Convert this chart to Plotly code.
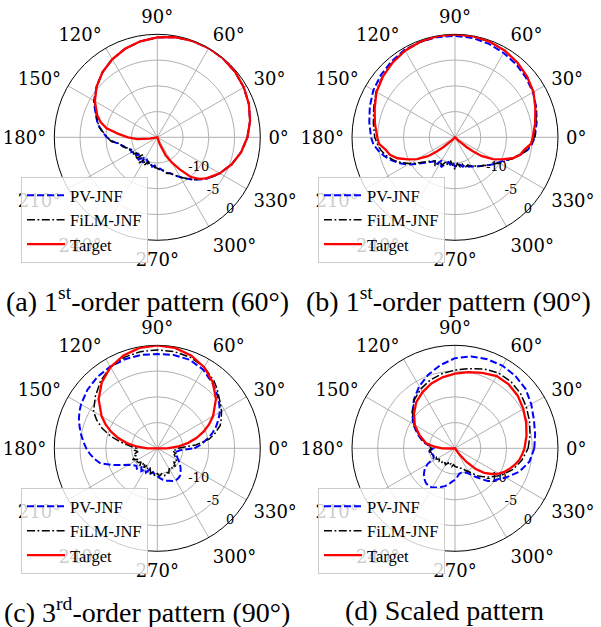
import plotly.graph_objects as go

# ---------------- data (dB) ----------------
SERIES_NAMES = ["PV-JNF", "FiLM-JNF", "Target"]
ANGLE_TICKS = [0, 30, 60, 90, 120, 150, 180, 210, 240, 270, 300, 330]
ANGLE_TICK_LABELS = ["0°", "30°", "60°", "90°", "120°", "150°", "180°", "210°", "240°", "270°", "300°", "330°"]
R_GRID = [-20, -15, -10, -5, 0]
R_LABEL_VALUES = [-10, -5, 0]
R_LABEL_TEXT = ["-10", "-5", "0"]
CAPTIONS = ["(a) 1<sup>st</sup>-order pattern (60°)", "(b) 1<sup>st</sup>-order pattern (90°)",
            "(c) 3<sup>rd</sup>-order pattern (90°)", "(d) Scaled pattern"]

# ---- (a) 1st-order pattern (60°)
A_TGT_TH = [0, 10, 20, 30, 40, 50, 60, 70, 80, 90, 100, 110, 120, 130, 140, 150, 160, 165, 170, 175, 180, 185, 190,
            195, 240, 285, 290, 295, 300, 305, 310, 315, 320, 330, 340, 350, 360]
A_TGT_R = [-2.5, -1.71, -1.08, -0.6, -0.27, -0.07, 0, -0.07, -0.27, -0.6, -1.08, -1.71, -2.5, -3.47, -4.63, -6.0,
           -7.6, -8.6, -10.0, -12.4, -14.3, -16.1, -18.5, -20, -20, -20, -18.5, -16.1, -14.3, -12.4, -10.0, -8.6,
           -7.6, -6.0, -4.63, -3.47, -2.5]
A_EST_TH = [0, 10, 20, 30, 40, 50, 60, 70, 80, 90, 100, 110, 120, 130, 140,
            150, 155, 160, 165, 170, 175, 180, 185, 190, 195, 200, 205, 210, 215, 220, 225, 230, 235, 240, 245,
            250, 255, 260, 265, 270, 275, 280, 285, 290, 295, 300, 305, 310, 315, 320, 325, 330, 340, 350, 360]
A_PV_R = [-2.5, -1.71, -1.08, -0.6, -0.27, -0.07, 0, -0.07, -0.27, -0.6, -1.08, -1.71, -2.5, -3.47, -4.63,
          -5.8, -6.6, -7.3, -7.9, -8.6, -9.4, -10.2, -11.2, -12.5, -13.3, -13.6, -14.4, -14.2, -15.0, -14.6, -15.3,
          -14.2, -15.4, -14.3, -15.2, -14.6, -14.9, -14.2, -14.5, -13.8, -13.9, -13.4, -12.9, -12.6, -11.8, -11.1,
          -10.2, -9.3, -8.4, -7.5, -6.8, -6.0, -4.63, -3.47, -2.5]
A_FILM_R = [-2.5, -1.71, -1.08, -0.6, -0.27, -0.07, 0, -0.07, -0.27, -0.6, -1.08, -1.71, -2.5, -3.47, -4.63,
            -5.9, -6.7, -7.4, -8.0, -8.5, -9.5, -10.3, -11.0, -12.7, -13.0, -13.9, -14.1, -14.6, -14.4, -15.2,
            -14.0, -15.6, -13.9, -15.1, -14.0, -15.0, -14.3, -14.7, -14.1, -14.0, -13.6, -13.5, -12.7, -12.5,
            -11.9, -11.0, -10.3, -9.2, -8.5, -7.6, -6.7, -6.0, -4.63, -3.47, -2.5]

# ---- (b) 1st-order pattern (90°)
B_TGT_TH = [0, 10, 20, 30, 40, 50, 60, 70, 80, 90, 100, 110, 120, 130, 140, 150, 160, 170, 180, 185, 190, 195, 200,
            205, 210, 215, 218, 220, 223, 225, 270, 315, 317, 320, 322, 325, 330, 335, 340, 345, 350, 355, 360]
B_TGT_R = [-4.9, -4.2, -3.4, -2.4, -1.7, -1.1, -0.6, -0.25, -0.07, 0, -0.07, -0.25, -0.6, -1.1, -1.7, -2.4, -3.4,
           -4.2, -4.9, -5.2, -6.3, -6.9, -8.1, -9.9, -11.5, -13.6, -15.5, -17.0, -19.0, -20, -20, -20, -19.0,
           -17.0, -15.5, -13.6, -11.5, -9.9, -8.1, -6.9, -6.3, -5.2, -4.9]
B_EST_TH = [0, 10, 20, 30, 40, 50, 60, 70, 80, 90, 100, 110, 120, 130, 140, 150, 160, 170, 180,
            185, 190, 195, 200, 205, 210, 215, 220, 225, 230, 235, 240, 245, 250, 255, 260, 265, 270, 275, 280,
            285, 290, 295, 300, 305, 310, 315, 320, 325, 330, 335, 340, 345, 350, 355, 360]
B_PV_R = [-4.5, -3.9, -3.2, -2.5, -2.0, -1.5, -1.1, -0.7, -0.4, -0.3, -0.25, -0.3, -0.4, -0.8, -1.2, -1.7, -2.4,
          -3.1, -3.7,
          -4.1, -4.9, -5.8, -6.9, -8.1, -9.4, -11.0, -12.3, -13.2, -13.9, -13.5, -14.8, -13.6, -14.5, -15.0, -14.6,
          -15.2, -14.2, -14.8, -14.6, -14.1, -14.3, -13.7, -13.5, -13.0, -12.7, -12.2, -11.6, -10.9, -10.2, -9.4,
          -8.1, -6.9, -5.7, -5.0, -4.5]
B_FILM_R = [-4.6, -4.0, -3.3, -2.4, -1.7, -1.1, -0.6, -0.3, -0.1, -0.05, -0.1, -0.3, -0.6, -1.1, -1.6, -2.3, -3.2,
            -3.9, -4.4,
            -4.9, -5.4, -6.2, -7.2, -8.4, -9.8, -11.4, -12.6, -13.5, -14.0, -13.2, -14.4, -14.0, -15.0, -14.4,
            -15.3, -14.5, -13.8, -14.9, -14.2, -14.6, -13.9, -14.1, -13.4, -13.2, -12.6, -12.3, -11.5, -11.0,
            -10.0, -9.2, -8.0, -6.8, -5.8, -5.1, -4.6]

# ---- (c) 3rd-order pattern (90°)
C_TGT_TH = [0, 5, 10, 15, 20, 25, 30, 40, 50, 60, 70, 80, 90, 100, 110, 120, 130, 140, 150, 155, 160, 165, 170,
            175, 180, 185, 270, 355, 360]
C_TGT_R = [-18.06, -15.9, -13.9, -12.07, -10.4, -8.88, -7.5, -5.13, -3.24, -1.8, -0.81, -0.2, 0, -0.2, -0.81, -1.8,
           -3.24, -5.13, -7.5, -8.88, -10.4, -12.07, -13.9, -15.9, -18.06, -20, -20, -20, -18.06]
C_EST_TH = [0, 5, 10, 15, 20, 25, 30, 35, 40, 45, 50, 60, 70, 80, 90, 100, 110, 120, 130, 140, 150, 155, 160, 165,
            170, 175, 180, 185, 190, 195, 200, 205, 210, 215, 220, 225, 230, 235, 240, 245, 250, 255, 260, 265,
            270, 275, 280, 285, 290, 295, 300, 305, 310, 315, 320, 325, 330, 335, 340, 345, 350, 355, 360]
C_PV_R = [-12.8, -11.5, -10.3, -9.0, -7.9, -6.9, -6.0, -5.3, -4.6, -4.0, -3.4, -2.3, -1.7, -1.6, -1.7, -1.6, -1.6,
          -1.7, -1.9, -2.3, -2.9, -3.3, -3.8, -4.4, -5.0, -5.6, -6.2, -6.9, -7.7, -8.6, -10.6, -12.3, -13.6, -14.3,
          -14.7, -14.4, -15.2, -14.6, -15.3, -14.8, -15.6, -14.9, -15.3, -14.8, -14.6, -14.2, -13.8, -13.5, -13.3,
          -13.0, -12.8, -12.9, -13.1, -13.6, -14.1, -14.7, -15.2, -15.7, -16.0, -16.2, -16.2, -15.6, -12.8]
C_FILM_R = [-16.0, -12.5, -9.8, -8.3, -7.0, -6.3, -5.6, -5.0, -4.4, -3.6, -2.9, -1.8, -1.2, -0.95, -0.9, -0.95,
            -1.2, -1.8, -2.9, -4.3, -5.7, -7.0, -8.6, -10.5, -12.6, -14.6, -16.0, -15.6, -16.2, -15.2, -15.6,
            -14.7, -15.8, -15.0, -15.9, -15.2, -16.3, -15.4, -16.2, -15.5, -15.9, -15.0, -15.3, -14.6, -15.1,
            -14.6, -15.0, -14.5, -15.0, -14.7, -15.4, -15.0, -15.6, -15.1, -15.8, -15.3, -15.9, -16.2, -16.5,
            -16.3, -17.0, -16.5, -16.0]

# ---- (d) Scaled pattern
D_TGT_TH = [0, 10, 20, 30, 40, 50, 60, 70, 80, 90, 100, 110, 120, 130, 140, 150, 160, 170, 175, 180, 185, 190, 245,
            300, 305, 310, 315, 320, 325, 330, 335, 340, 345, 350, 355, 360]
D_TGT_R = [-6.5, -5.9, -5.3, -4.7, -4.1, -3.8, -3.8, -4.4, -5.0, -5.5, -6.0, -6.6, -7.4, -8.3, -9.6, -11.0, -12.7,
           -14.3, -15.8, -17.5, -19.5, -20, -20, -20, -18.7, -16.6, -14.3, -12.6, -11.3, -10.2, -9.3, -8.6, -7.9,
           -7.3, -6.9, -6.5]
D_EST_TH = [0, 10, 20, 30, 40, 50, 60, 70, 80, 90, 100, 110, 120, 130, 140, 150, 155, 160, 165, 170, 175, 180, 185,
            190, 195, 200, 205, 210, 215, 220, 225, 230, 235, 240, 245, 250, 255, 260, 265, 270, 275, 280, 285, 290,
            295, 300, 305, 310, 315, 320, 325, 330, 340, 350, 360]
D_PV_R = [-4.6, -4.2, -3.7, -2.9, -2.1, -1.7, -1.5, -1.6, -1.9, -2.5, -3.6, -4.8, -6.1, -7.6, -9.2, -10.6, -11.6,
          -12.4, -13.2, -14.0, -15.3, -15.8, -15.2, -14.8, -15.5, -15.6, -15.4, -13.8, -12.8, -12.1, -11.6, -11.2,
          -11.1, -11.2, -11.6, -12.0, -12.4, -12.9, -13.5, -13.9, -14.5, -15.0, -15.1, -14.9, -14.8, -14.2, -13.3,
          -12.3, -11.0, -10.2, -9.6, -8.6, -6.7, -5.3, -4.6]
D_FILM_R = [-5.8, -5.2, -4.6, -4.0, -3.4, -3.1, -3.1, -3.6, -4.3, -4.8, -5.3, -5.9, -6.7, -7.7, -9.2, -10.8, -11.7,
            -12.6, -13.4, -14.2, -15.0, -15.4, -15.0, -15.3, -15.6, -15.5, -16.0, -15.8, -16.3, -16.0, -16.4,
            -16.1, -16.6, -16.3, -16.9, -16.5, -16.9, -16.4, -16.8, -16.5, -16.3, -16.4, -16.0, -15.9, -15.3,
            -14.8, -14.0, -13.0, -12.2, -11.3, -10.5, -9.6, -8.0, -6.8, -5.8]

PANELS = [
    (A_EST_TH, A_PV_R, A_EST_TH, A_FILM_R, A_TGT_TH, A_TGT_R),
    (B_EST_TH, B_PV_R, B_EST_TH, B_FILM_R, B_TGT_TH, B_TGT_R),
    (C_EST_TH, C_PV_R, C_EST_TH, C_FILM_R, C_TGT_TH, C_TGT_R),
    (D_EST_TH, D_PV_R, D_EST_TH, D_FILM_R, D_TGT_TH, D_TGT_R),
]

# ---------------- layout geometry / styles ----------------
W, H = 601, 627
CENTERS = [(157.3, 137.3), (455.0, 137.3), (157.3, 448.3), (455.0, 448.3)]
RADIUS = 103.0
LEGEND_POS = [(21, 177), (318, 177), (21, 488), (318, 488)]
CAPTION_POS = [(147.5, 299), (448, 299), (146.5, 610), (444, 610)]
R_LABEL_DIRECTIONS = [-36.5, -43.7, -45.0]   # direction (deg) at which each radial label sits

STYLES = [
    dict(color="#0000ff", width=2.0, dash="7px,3px"),
    dict(color="#000000", width=1.5, dash="8px,2.5px,1.8px,2.5px"),
    dict(color="#ff0000", width=2.3, dash="solid"),
]

TICK_FONT = dict(family="DejaVu Serif", size=18, color="black")
SERIF = "Liberation Serif"

fig = go.Figure()
layout = dict(width=W, height=H, margin=dict(l=0, r=0, t=0, b=0),
              paper_bgcolor="white", plot_bgcolor="white", annotations=[])

for i, (t1, r1, t2, r2, t3, r3) in enumerate(PANELS):
    pname = "polar" if i == 0 else f"polar{i + 1}"
    lname = "legend" if i == 0 else f"legend{i + 1}"
    # radial tick labels, placed through the polar scale
    fig.add_trace(go.Scatterpolar(
        r=R_LABEL_VALUES, theta=R_LABEL_DIRECTIONS, mode="text", text=R_LABEL_TEXT,
        textposition="middle center", cliponaxis=False, subplot=pname, showlegend=False,
        textfont=dict(family="DejaVu Serif", size=13, color="black"), hoverinfo="skip"))
    for name, th, rr, st in zip(SERIES_NAMES, [t1, t2, t3], [r1, r2, r3], STYLES):
        fig.add_trace(go.Scatterpolar(
            r=rr, theta=th, mode="lines", name=name, subplot=pname, legend=lname,
            line=dict(color=st["color"], width=st["width"], dash=st["dash"]),
            showlegend=True, hoverinfo="skip"))
    cx, cy = CENTERS[i]
    layout[pname] = dict(
        domain=dict(x=[(cx - RADIUS) / W, (cx + RADIUS) / W],
                    y=[1 - (cy + RADIUS) / H, 1 - (cy - RADIUS) / H]),
        bgcolor="white",
        angularaxis=dict(
            rotation=0, direction="counterclockwise",
            tickmode="array", tickvals=ANGLE_TICKS, ticktext=ANGLE_TICK_LABELS,
            tickfont=TICK_FONT, ticks="outside", ticklen=4, tickcolor="rgba(0,0,0,0)",
            showline=True, linecolor="black", linewidth=1,
            showgrid=True, gridcolor="#b0b0b0", gridwidth=0.8, layer="below traces"),
        radialaxis=dict(
            range=[-20, 0], tickmode="array", tickvals=R_GRID, showticklabels=False,
            angle=-45, showline=False, ticks="", showgrid=True, gridcolor="#b0b0b0", gridwidth=0.8,
            layer="below traces"),
    )
    lx, ly = LEGEND_POS[i]
    layout[lname] = dict(
        x=lx / W, y=1 - ly / H, xanchor="left", yanchor="top",
        bgcolor="rgba(255,255,255,0.8)", bordercolor="#cccccc", borderwidth=1,
        font=dict(family=SERIF, size=16.5, color="black"), tracegroupgap=0, itemwidth=38)
    capx, capy = CAPTION_POS[i]
    layout["annotations"].append(dict(
        text=CAPTIONS[i], x=capx / W, y=1 - capy / H, xref="paper", yref="paper",
        xanchor="center", yanchor="middle", showarrow=False,
        font=dict(family=SERIF, size=28, color="black")))

fig.update_layout(**layout)
fig.write_html("out.html", config={"displayModeBar": False})

# remove the default page margin so the figure sits at the window's top-left corner
with open("out.html", "r", encoding="utf-8") as f:
    html = f.read()
html = html.replace("<head>", "<head><style>html,body{margin:0;padding:0;overflow:hidden;}</style>", 1)
with open("out.html", "w", encoding="utf-8") as f:
    f.write(html)
